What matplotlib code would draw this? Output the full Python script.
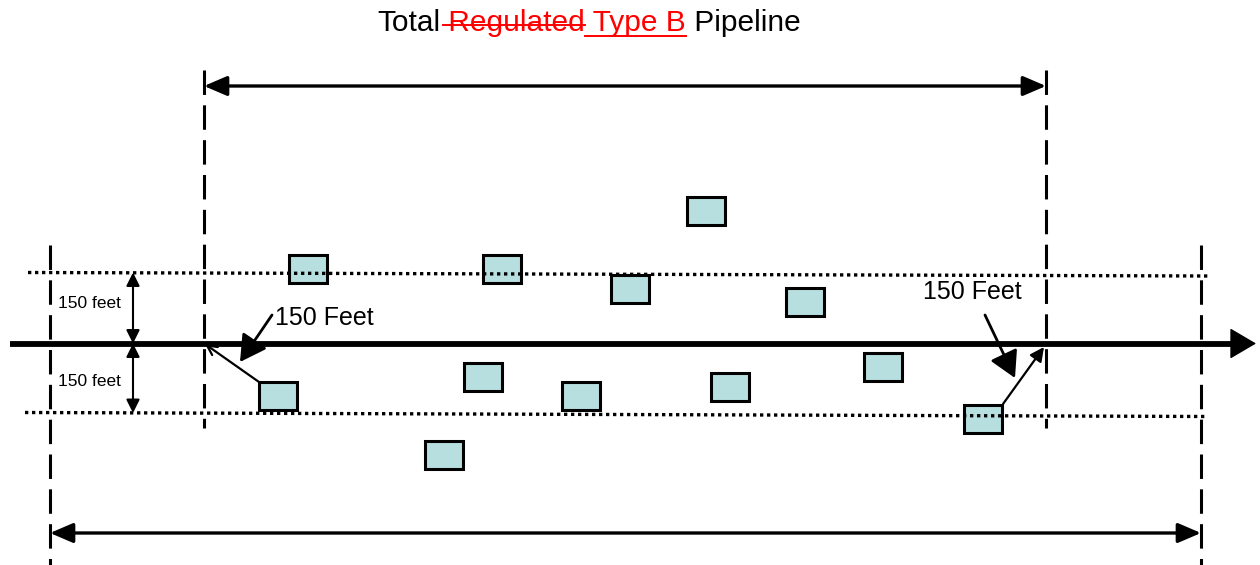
import matplotlib
matplotlib.use("Agg")
import matplotlib.pyplot as plt
from matplotlib.patches import Rectangle

plt.rcParams['font.family'] = ['Liberation Sans', 'DejaVu Sans']

# diagram coordinates are in pixels of the 1260x565 sheet (y grows downward)
box_x = [308, 502, 706, 630, 805, 278, 483, 581, 730, 883, 983, 444]
box_y = [269, 269, 211, 289, 302, 396, 377, 396, 387, 367, 419, 455]
box_w, box_h = 38.5, 28.5

pipe_y = 343.5
upper_dotted = [(28, 272.5), (1208, 276)]
lower_dotted = [(25, 412.5), (1205, 416.5)]
outer_x = [50, 1201]
inner_x = [204, 1046]

title_parts = [("Total", "black", None),
               (" Regulated", "red", "strike"),
               (" Type B", "red", "under"),
               (" Pipeline", "black", None)]

fig = plt.figure(figsize=(12.6, 5.65), dpi=100)
ax = fig.add_axes([0, 0, 1, 1])
ax.set_xlim(0, 1260)
ax.set_ylim(565, 0)
ax.axis('off')

# boxes
for cx, cy in zip(box_x, box_y):
    ax.add_patch(Rectangle((cx - box_w / 2, cy - box_h / 2), box_w, box_h,
                           facecolor='#b7dfe0', edgecolor='black', lw=2.2, zorder=2))

# dotted boundary lines (150 ft each side)
for seg in (upper_dotted, lower_dotted):
    ax.plot([seg[0][0], seg[1][0]], [seg[0][1], seg[1][1]], color='black',
            lw=2.4, linestyle=(0, (1, 1.1)), zorder=3)

# dashed vertical lines
for x in outer_x:
    ax.plot([x, x], [245, 565], color='black', lw=2.2, linestyle=(0, (8, 3.4)), zorder=3)
for x in inner_x:
    ax.plot([x, x], [70, 428], color='black', lw=2.2, linestyle=(0, (8, 3.4)), zorder=3)

# pipeline
ax.plot([10, 1240], [pipe_y, pipe_y], color='black', lw=4.2, solid_capstyle='butt', zorder=4)
ax.annotate('', xy=(1256, pipe_y), xytext=(1230, pipe_y),
            arrowprops=dict(arrowstyle='-|>,head_length=0.85,head_width=0.5',
                            lw=1.0, color='black', mutation_scale=20,
                            shrinkA=0, shrinkB=0), zorder=4)

# span arrows
ax.annotate('', xy=(inner_x[1], 86), xytext=(inner_x[0], 86),
            arrowprops=dict(arrowstyle='<|-|>,head_length=0.7,head_width=0.3',
                            lw=2.4, color='black', mutation_scale=20,
                            shrinkA=0, shrinkB=0))
ax.annotate('', xy=(outer_x[1], 533), xytext=(outer_x[0], 533),
            arrowprops=dict(arrowstyle='<|-|>,head_length=0.7,head_width=0.3',
                            lw=2.4, color='black', mutation_scale=20,
                            shrinkA=0, shrinkB=0))

# 150 feet offsets
for y0, y1 in [(272.5, pipe_y), (pipe_y, 413)]:
    ax.annotate('', xy=(133, y1), xytext=(133, y0),
                arrowprops=dict(arrowstyle='<|-|>,head_length=0.5,head_width=0.25',
                                lw=1.5, color='black', mutation_scale=16,
                                shrinkA=0, shrinkB=0))
ax.text(58, 303, "150 feet", fontsize=12.5, va='center', ha='left')
ax.text(58, 382, "150 feet", fontsize=12.5, va='center', ha='left')

# 150 Feet callouts
ax.text(275, 318, "150 Feet", fontsize=18, va='center', ha='left')
ax.text(923, 292, "150 Feet", fontsize=18, va='center', ha='left')
ax.annotate('', xy=(240, 362), xytext=(272, 315),
            arrowprops=dict(arrowstyle='-|>,head_length=0.8,head_width=0.45',
                            lw=2.0, color='black', mutation_scale=20,
                            shrinkA=0, shrinkB=0))
ax.annotate('', xy=(1015, 378), xytext=(985, 315),
            arrowprops=dict(arrowstyle='-|>,head_length=0.8,head_width=0.45',
                            lw=2.0, color='black', mutation_scale=20,
                            shrinkA=0, shrinkB=0))
ax.annotate('', xy=(205, 344), xytext=(259, 382),
            arrowprops=dict(arrowstyle='->,head_length=0.5,head_width=0.25',
                            lw=1.6, color='black', mutation_scale=14,
                            shrinkA=0, shrinkB=0))
ax.annotate('', xy=(1044, 347), xytext=(1003, 404),
            arrowprops=dict(arrowstyle='-|>,head_length=0.6,head_width=0.3',
                            lw=1.6, color='black', mutation_scale=14,
                            shrinkA=0, shrinkB=0))

# title with tracked changes
fig.canvas.draw()
renderer = fig.canvas.get_renderer()
inv = ax.transData.inverted()
x = 377
for txt, col, deco in title_parts:
    t = ax.text(x, 31, txt, color=col, fontsize=21.5, ha='left', va='baseline')
    bb = t.get_window_extent(renderer)
    (x0, _), (x1, _) = inv.transform([(bb.x0, bb.y0), (bb.x1, bb.y1)])
    if deco == 'strike':
        ax.plot([x0 + 3, x1], [25, 25], color='red', lw=1.4)
    elif deco == 'under':
        ax.plot([x0, x1], [36, 36], color='red', lw=1.4)
    x = x1

fig.savefig('out.png', dpi=100)
